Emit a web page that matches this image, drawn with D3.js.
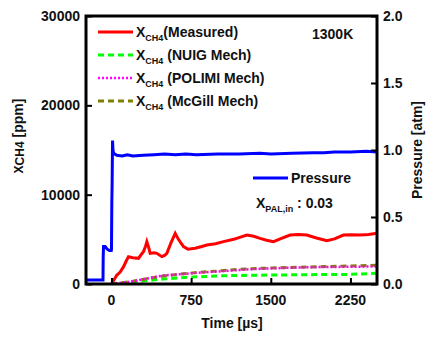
<!DOCTYPE html>
<html lang="en">
<head>
<meta charset="UTF-8">
<script src="https://d3js.org/d3.v7.min.js"></script>
<style>
  body { margin: 0; background: #fff; }
  svg text { font-family: "Liberation Sans", Arial, sans-serif; font-weight: bold; fill: #111; }
</style>
</head>
<body>
<script>
// measured CH4 mole fraction [ppm] vs time [us]
const measT = [0, 20, 51, 80, 114, 140, 160, 200, 254, 280, 301, 320, 333, 350, 364, 400, 427, 474, 500, 521, 560, 600, 630, 678, 720, 788, 850, 898, 980, 1054, 1150, 1274, 1340, 1399, 1460, 1525, 1600, 1682, 1760, 1839, 1930, 2027, 2100, 2184, 2260, 2340, 2420, 2500];
const measV = [0, 400, 1000, 1300, 1940, 2600, 3060, 2950, 2870, 3300, 3620, 4200, 4740, 4100, 3430, 3500, 3430, 3060, 3200, 3430, 4600, 5670, 5000, 4180, 3900, 4000, 4200, 4370, 4500, 4740, 5000, 5480, 5350, 5110, 4900, 4740, 5100, 5480, 5550, 5480, 5150, 4850, 5050, 5480, 5500, 5480, 5550, 5670];

// model predictions [ppm]
const modelT = [0, 100, 200, 350, 487, 646, 800, 1000, 1117, 1300, 1510, 1745, 2000, 2260, 2500];
const nuigV = [0, 120, 230, 400, 560, 700, 800, 900, 940, 980, 1000, 1030, 1060, 1080, 1200];
const polimiV = [0, 150, 300, 650, 950, 1100, 1250, 1400, 1500, 1650, 1750, 1850, 1900, 1930, 1960];
const mcgillV = [0, 140, 300, 620, 900, 1100, 1280, 1450, 1570, 1700, 1800, 1870, 1950, 2020, 2090];

// pressure trace [atm]
const presT = [-240, -80, -78, -75, -60, -40, -20, -2, 0, 3, 6, 10, 14, 20, 50, 100, 150, 200, 300, 400, 500, 600, 700, 800, 1000, 1200, 1400, 1500, 1700, 1900, 2000, 2100, 2250, 2400, 2500];
const presV = [0.03, 0.03, 0.2, 0.28, 0.28, 0.26, 0.25, 0.25, 0.26, 0.6, 0.75, 1.07, 1.0, 0.975, 0.96, 0.955, 0.965, 0.955, 0.96, 0.965, 0.97, 0.965, 0.97, 0.965, 0.97, 0.97, 0.975, 0.97, 0.975, 0.98, 0.98, 0.985, 0.985, 0.99, 0.985];

const xTicks = [0, 750, 1500, 2250];
const yTicks = [0, 10000, 20000, 30000];
const pTicks = [0, 0.5, 1.0, 1.5, 2.0];

const W = 444, H = 347;
const m = { left: 86, right: 377, top: 16, bottom: 284 };

const svg = d3.select("body").append("svg").attr("width", W).attr("height", H);

const x = d3.scaleLinear().domain([-240, 2500]).range([m.left, m.right]);
const y = d3.scaleLinear().domain([0, 30000]).range([m.bottom, m.top]);
const yP = d3.scaleLinear().domain([0, 2]).range([m.bottom, m.top]);

const clip = svg.append("clipPath").attr("id", "clip").append("rect")
  .attr("x", m.left).attr("y", m.top).attr("width", m.right - m.left).attr("height", m.bottom - m.top);
const plot = svg.append("g").attr("clip-path", "url(#clip)");

const line = (xs, ys, sy) => d3.line().x((d, i) => x(xs[i])).y((d, i) => sy(ys[i]))(ys);

// pressure
plot.append("path").attr("d", line(presT, presV, yP))
  .attr("fill", "none").attr("stroke", "#0000ff").attr("stroke-width", 3);
// models
plot.append("path").attr("d", line(modelT, nuigV, y))
  .attr("fill", "none").attr("stroke", "#00ff00").attr("stroke-width", 3).attr("stroke-dasharray", "6,4");
plot.append("path").attr("d", line(modelT, mcgillV, y))
  .attr("fill", "none").attr("stroke", "#808000").attr("stroke-width", 3).attr("stroke-dasharray", "6,4");
plot.append("path").attr("d", line(modelT, polimiV, y))
  .attr("fill", "none").attr("stroke", "#ff00ff").attr("stroke-width", 2.5).attr("stroke-dasharray", "2,2");
// measured
plot.append("path").attr("d", line(measT, measV, y))
  .attr("fill", "none").attr("stroke", "#ff0000").attr("stroke-width", 3);

// axes (ticks inward)
svg.append("g").attr("transform", `translate(0,${m.bottom})`)
  .call(d3.axisTop(x).tickValues(xTicks).tickSize(6).tickFormat(""))
  .call(g => g.select(".domain").remove())
  .selectAll("line").attr("stroke", "#000").attr("stroke-width", 2);
svg.append("g").attr("transform", `translate(${m.left},0)`)
  .call(d3.axisRight(y).tickValues(yTicks).tickSize(6).tickFormat(""))
  .call(g => g.select(".domain").remove())
  .selectAll("line").attr("stroke", "#000").attr("stroke-width", 2);
svg.append("g").attr("transform", `translate(${m.right},0)`)
  .call(d3.axisLeft(yP).tickValues(pTicks).tickSize(6).tickFormat(""))
  .call(g => g.select(".domain").remove())
  .selectAll("line").attr("stroke", "#000").attr("stroke-width", 2);

svg.append("rect").attr("x", m.left).attr("y", m.top)
  .attr("width", m.right - m.left).attr("height", m.bottom - m.top)
  .attr("fill", "none").attr("stroke", "#000").attr("stroke-width", 3);

// tick labels
svg.selectAll(".xl").data(xTicks).join("text")
  .attr("x", d => x(d)).attr("y", 305).attr("text-anchor", "middle")
  .attr("font-size", 14).text(d => d);
svg.selectAll(".yl").data(yTicks).join("text")
  .attr("x", 80).attr("y", d => y(d) + 5).attr("text-anchor", "end")
  .attr("font-size", 14).text(d => d);
svg.selectAll(".pl").data(pTicks).join("text")
  .attr("x", 383).attr("y", d => yP(d) + 5)
  .attr("font-size", 14).text(d => d.toFixed(1));

// axis titles
svg.append("text").attr("x", 232).attr("y", 328).attr("text-anchor", "middle")
  .attr("font-size", 14).text("Time [µs]");
const yt = svg.append("text").attr("transform", "translate(23,136) rotate(-90)")
  .attr("text-anchor", "middle").attr("font-size", 14);
yt.append("tspan").attr("font-size", 12).text("X");
yt.append("tspan").attr("font-size", 12).attr("dy", 1).text("CH4");
yt.append("tspan").attr("dy", -1).text(" [ppm]");
svg.append("text").attr("transform", "translate(422,150) rotate(-90)")
  .attr("text-anchor", "middle").attr("font-size", 14).text("Pressure [atm]");

// legend
const legend = [
  { name: "(Measured)", color: "#ff0000", dash: null, w: 3 },
  { name: " (NUIG Mech)", color: "#00ff00", dash: "6,4", w: 3 },
  { name: " (POLIMI Mech)", color: "#ff00ff", dash: "2,2", w: 2.5 },
  { name: " (McGill Mech)", color: "#808000", dash: "6,4", w: 3 }
];
const lg = svg.selectAll(".lg").data(legend).join("g")
  .attr("transform", (d, i) => `translate(98,${32 + i * 23})`);
lg.append("line").attr("x1", 0).attr("x2", 35).attr("y1", 0).attr("y2", 0)
  .attr("stroke", d => d.color).attr("stroke-width", d => d.w).attr("stroke-dasharray", d => d.dash);
const lt = lg.append("text").attr("x", 38).attr("y", 5).attr("font-size", 14);
lt.append("tspan").text("X");
lt.append("tspan").attr("font-size", 9).attr("dy", 4).text("CH4");
lt.append("tspan").attr("dy", -4).text(d => d.name);

svg.append("text").attr("x", 312).attr("y", 39).attr("font-size", 14).text("1300K");

svg.append("line").attr("x1", 253).attr("x2", 288).attr("y1", 178).attr("y2", 178)
  .attr("stroke", "#0000ff").attr("stroke-width", 3);
svg.append("text").attr("x", 291).attr("y", 183).attr("font-size", 14).text("Pressure");

const xp = svg.append("text").attr("x", 256).attr("y", 208).attr("font-size", 14);
xp.append("tspan").text("X");
xp.append("tspan").attr("font-size", 9).attr("dy", 4).text("PAL,in");
xp.append("tspan").attr("dy", -4).text(" : 0.03");
</script>
</body>
</html>
